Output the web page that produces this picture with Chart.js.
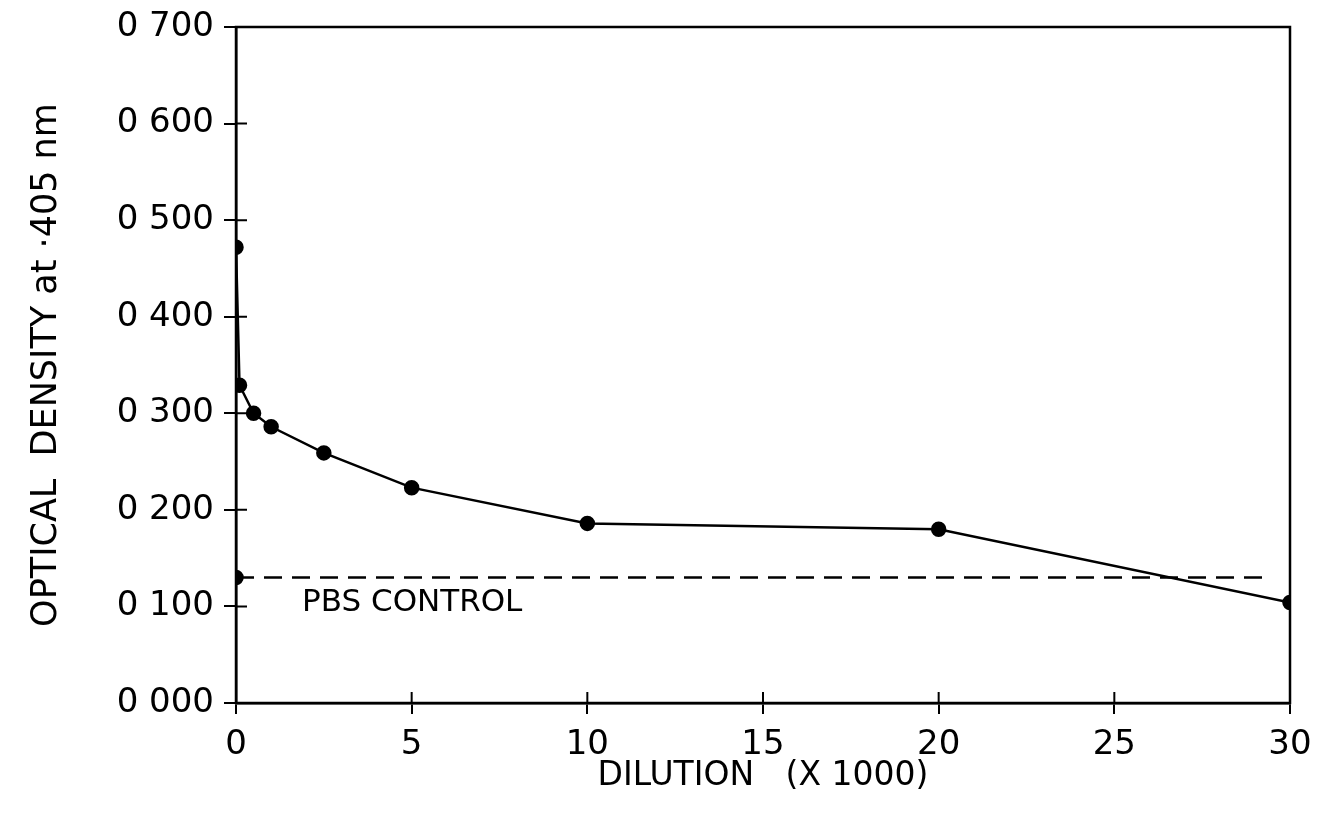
<!DOCTYPE html>
<html>
<head>
<meta charset="utf-8">
<script src="https://cdn.jsdelivr.net/npm/chart.js@4.4.1/dist/chart.umd.min.js"></script>
<style>
  html, body { margin: 0; padding: 0; background: #fff; }
  #wrap { width: 1333px; height: 816px; }
</style>
</head>
<body>
<div id="wrap"><canvas id="odChart" width="1333" height="816"></canvas></div>
<script>
// dilution (x 1000) and optical density at 405 nm
const dilution = [0, 0.1, 0.5, 1, 2.5, 5, 10, 20, 30];
const density = [0.472, 0.329, 0.300, 0.286, 0.259, 0.223, 0.186, 0.180, 0.104];
// PBS control level
const controlX = [0, 29.3];
const controlY = [0.130, 0.130];
const yTicks = [0, 0.1, 0.2, 0.3, 0.4, 0.5, 0.6, 0.7];
const xTicks = [0, 5, 10, 15, 20, 25, 30];

const FONT = "'DejaVu Sans', 'Liberation Sans', sans-serif";

const toPoints = (xs, ys) => xs.map((x, i) => ({ x: x, y: ys[i] }));

// frame, inner half of the crossing ticks, and the control label
const framePlugin = {
    id: "frame",
    afterDraw(chart) {
        const ctx = chart.ctx;
        const a = chart.chartArea;
        const xs = chart.scales.x;
        const ys = chart.scales.y;
        ctx.save();
        ctx.strokeStyle = "#000";
        ctx.lineWidth = 2.5;
        ctx.strokeRect(a.left, a.top, a.right - a.left, a.bottom - a.top);
        ctx.lineWidth = 2;
        ctx.beginPath();
        yTicks.forEach(v => {
            const py = ys.getPixelForValue(v);
            ctx.moveTo(a.left, py);
            ctx.lineTo(a.left + 11, py);
        });
        xTicks.forEach(v => {
            const px = xs.getPixelForValue(v);
            ctx.moveTo(px, a.bottom);
            ctx.lineTo(px, a.bottom - 11);
        });
        ctx.stroke();
        ctx.fillStyle = "#000";
        ctx.font = "31px " + FONT;
        ctx.textBaseline = "middle";
        ctx.textAlign = "left";
        ctx.fillText("PBS CONTROL", xs.getPixelForValue(1.88), ys.getPixelForValue(0.1035));
        ctx.restore();
    }
};

new Chart(document.getElementById("odChart"), {
    type: "line",
    data: {
        datasets: [{
            label: "Sample",
            data: toPoints(dilution, density),
            borderColor: "#000",
            backgroundColor: "#000",
            borderWidth: 2.5,
            pointRadius: 6.5,
            pointHoverRadius: 6.5,
            tension: 0
        }, {
            label: "PBS control",
            data: toPoints(controlX, controlY),
            borderColor: "#000",
            backgroundColor: "#000",
            borderWidth: 2.5,
            borderDash: [18, 10],
            pointRadius: [6.5, 0],
            tension: 0
        }]
    },
    options: {
        responsive: false,
        animation: false,
        layout: { padding: { left: 22, right: 43, top: 27, bottom: 20 } },
        plugins: {
            legend: { display: false },
            tooltip: { enabled: false }
        },
        scales: {
            x: {
                type: "linear",
                min: 0,
                max: 30,
                afterFit: (scale) => { scale.height = 93; },
                afterBuildTicks: (scale) => { scale.ticks = xTicks.map(v => ({ value: v })); },
                ticks: {
                    color: "#000",
                    font: { family: FONT, size: 34 },
                    padding: 11
                },
                grid: {
                    drawOnChartArea: false,
                    color: "#000",
                    lineWidth: 2,
                    tickLength: 11
                },
                border: { color: "#000", width: 2.5 },
                title: {
                    display: true,
                    text: "DILUTION   (X 1000)",
                    color: "#000",
                    font: { family: FONT, size: 33 },
                    padding: { top: 0, bottom: 0 }
                }
            },
            y: {
                min: 0,
                max: 0.7,
                afterFit: (scale) => { scale.width = 214; },
                afterBuildTicks: (scale) => { scale.ticks = yTicks.map(v => ({ value: v })); },
                ticks: {
                    color: "#000",
                    font: { family: FONT, size: 34, lineHeight: 1.0 },
                    padding: 10,
                    callback: (v) => v.toFixed(3).replace(".", " ")
                },
                grid: {
                    drawOnChartArea: false,
                    color: "#000",
                    lineWidth: 2,
                    tickLength: 12
                },
                border: { color: "#000", width: 2.5 },
                title: {
                    display: true,
                    text: "OPTICAL  DENSITY at \u00b7405 nm",
                    color: "#000",
                    font: { family: FONT, size: 35 },
                    padding: { bottom: 0 }
                }
            }
        }
    },
    plugins: [framePlugin]
});
</script>
</body>
</html>
